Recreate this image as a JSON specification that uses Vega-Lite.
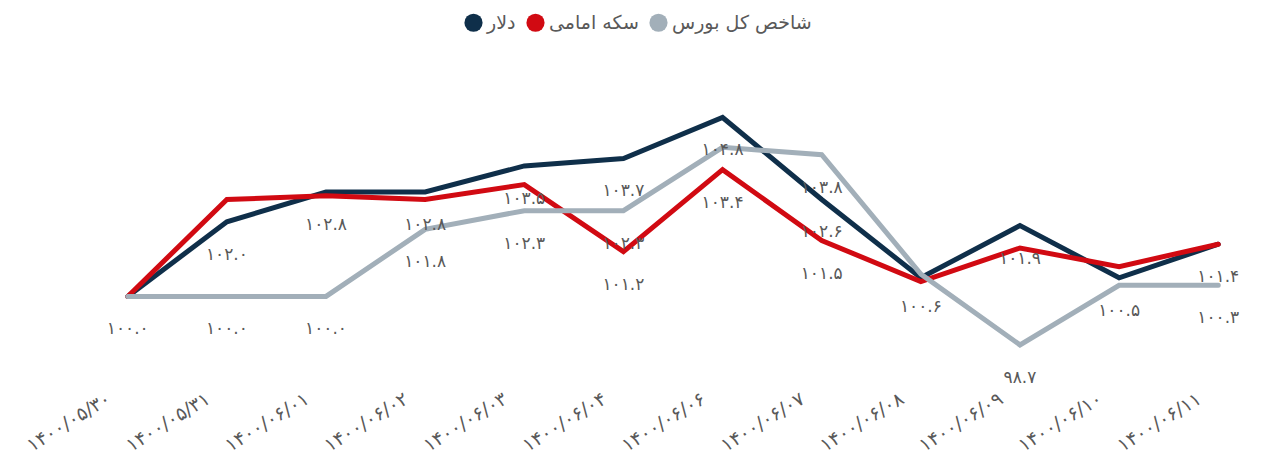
{
  "$schema": "https://vega.github.io/schema/vega-lite/v6.json",
  "width": 1150,
  "height": 261,
  "autosize": {"type": "none"},
  "padding": {"left": 98, "top": 110, "right": 15, "bottom": 99},
  "background": "white",
  "config": {
    "view": {"stroke": null},
    "font": "DejaVu Sans"
  },
  "data": {
    "values": [
      {"date": "۱۴۰۰/۰۵/۳۰", "series": "دلار", "value": 100.0, "label": ""},
      {"date": "۱۴۰۰/۰۵/۳۱", "series": "دلار", "value": 102.0, "label": "۱۰۲.۰"},
      {"date": "۱۴۰۰/۰۶/۰۱", "series": "دلار", "value": 102.8, "label": "۱۰۲.۸"},
      {"date": "۱۴۰۰/۰۶/۰۲", "series": "دلار", "value": 102.8, "label": "۱۰۲.۸"},
      {"date": "۱۴۰۰/۰۶/۰۳", "series": "دلار", "value": 103.5, "label": "۱۰۳.۵"},
      {"date": "۱۴۰۰/۰۶/۰۴", "series": "دلار", "value": 103.7, "label": "۱۰۳.۷"},
      {"date": "۱۴۰۰/۰۶/۰۶", "series": "دلار", "value": 104.8, "label": "۱۰۴.۸"},
      {"date": "۱۴۰۰/۰۶/۰۷", "series": "دلار", "value": 102.6, "label": "۱۰۲.۶"},
      {"date": "۱۴۰۰/۰۶/۰۸", "series": "دلار", "value": 100.5, "label": ""},
      {"date": "۱۴۰۰/۰۶/۰۹", "series": "دلار", "value": 101.9, "label": "۱۰۱.۹"},
      {"date": "۱۴۰۰/۰۶/۱۰", "series": "دلار", "value": 100.5, "label": "۱۰۰.۵"},
      {"date": "۱۴۰۰/۰۶/۱۱", "series": "دلار", "value": 101.4, "label": "۱۰۱.۴"},
      {"date": "۱۴۰۰/۰۵/۳۰", "series": "سکه امامی", "value": 100.0, "label": ""},
      {"date": "۱۴۰۰/۰۵/۳۱", "series": "سکه امامی", "value": 102.6, "label": ""},
      {"date": "۱۴۰۰/۰۶/۰۱", "series": "سکه امامی", "value": 102.7, "label": ""},
      {"date": "۱۴۰۰/۰۶/۰۲", "series": "سکه امامی", "value": 102.6, "label": ""},
      {"date": "۱۴۰۰/۰۶/۰۳", "series": "سکه امامی", "value": 103.0, "label": ""},
      {"date": "۱۴۰۰/۰۶/۰۴", "series": "سکه امامی", "value": 101.2, "label": "۱۰۱.۲"},
      {"date": "۱۴۰۰/۰۶/۰۶", "series": "سکه امامی", "value": 103.4, "label": "۱۰۳.۴"},
      {"date": "۱۴۰۰/۰۶/۰۷", "series": "سکه امامی", "value": 101.5, "label": "۱۰۱.۵"},
      {"date": "۱۴۰۰/۰۶/۰۸", "series": "سکه امامی", "value": 100.4, "label": ""},
      {"date": "۱۴۰۰/۰۶/۰۹", "series": "سکه امامی", "value": 101.3, "label": ""},
      {"date": "۱۴۰۰/۰۶/۱۰", "series": "سکه امامی", "value": 100.8, "label": ""},
      {"date": "۱۴۰۰/۰۶/۱۱", "series": "سکه امامی", "value": 101.4, "label": ""},
      {"date": "۱۴۰۰/۰۵/۳۰", "series": "شاخص کل بورس", "value": 100.0, "label": "۱۰۰.۰"},
      {"date": "۱۴۰۰/۰۵/۳۱", "series": "شاخص کل بورس", "value": 100.0, "label": "۱۰۰.۰"},
      {"date": "۱۴۰۰/۰۶/۰۱", "series": "شاخص کل بورس", "value": 100.0, "label": "۱۰۰.۰"},
      {"date": "۱۴۰۰/۰۶/۰۲", "series": "شاخص کل بورس", "value": 101.8, "label": "۱۰۱.۸"},
      {"date": "۱۴۰۰/۰۶/۰۳", "series": "شاخص کل بورس", "value": 102.3, "label": "۱۰۲.۳"},
      {"date": "۱۴۰۰/۰۶/۰۴", "series": "شاخص کل بورس", "value": 102.3, "label": "۱۰۲.۳"},
      {"date": "۱۴۰۰/۰۶/۰۶", "series": "شاخص کل بورس", "value": 104.0, "label": ""},
      {"date": "۱۴۰۰/۰۶/۰۷", "series": "شاخص کل بورس", "value": 103.8, "label": "۱۰۳.۸"},
      {"date": "۱۴۰۰/۰۶/۰۸", "series": "شاخص کل بورس", "value": 100.6, "label": "۱۰۰.۶"},
      {"date": "۱۴۰۰/۰۶/۰۹", "series": "شاخص کل بورس", "value": 98.7, "label": "۹۸.۷"},
      {"date": "۱۴۰۰/۰۶/۱۰", "series": "شاخص کل بورس", "value": 100.3, "label": ""},
      {"date": "۱۴۰۰/۰۶/۱۱", "series": "شاخص کل بورس", "value": 100.3, "label": "۱۰۰.۳"}
    ]
  },
  "encoding": {
    "x": {
      "field": "date",
      "type": "ordinal",
      "sort": null,
      "scale": {"type": "point", "padding": 0.3},
      "axis": {
        "title": null,
        "domain": false,
        "ticks": false,
        "labelAngle": -32,
        "labelFontSize": 19,
        "labelColor": "#595959",
        "labelPadding": 18,
        "labelOffset": -24
      }
    },
    "y": {
      "field": "value",
      "type": "quantitative",
      "scale": {"domain": [98, 105], "zero": false, "nice": false},
      "axis": null
    }
  },
  "layer": [
    {
      "mark": {"type": "line", "strokeWidth": 5, "strokeCap": "round", "strokeJoin": "miter"},
      "encoding": {
        "color": {
          "field": "series",
          "type": "nominal",
          "sort": ["دلار", "سکه امامی", "شاخص کل بورس"],
          "scale": {
            "domain": ["دلار", "سکه امامی", "شاخص کل بورس"],
            "range": ["#0F2F4A", "#D10A12", "#A2AFB9"]
          },
          "legend": {
            "title": null,
            "orient": "none",
            "direction": "horizontal",
            "legendX": 366,
            "legendY": -97,
            "symbolType": "circle",
            "symbolSize": 330,
            "labelFontSize": 19,
            "labelColor": "#595959",
            "columnPadding": 10,
            "labelOffset": 4,
            "encode": {
              "symbols": {
                "update": {
                  "fill": {"scale": "color", "field": "value"},
                  "stroke": {"value": "transparent"},
                  "strokeWidth": {"value": 0}
                }
              }
            }
          }
        }
      }
    },
    {
      "transform": [{"filter": "datum.label != ''"}],
      "mark": {"type": "text", "dy": 33, "fontSize": 17, "color": "#595959", "baseline": "middle"},
      "encoding": {
        "text": {"field": "label"}
      }
    }
  ]
}
